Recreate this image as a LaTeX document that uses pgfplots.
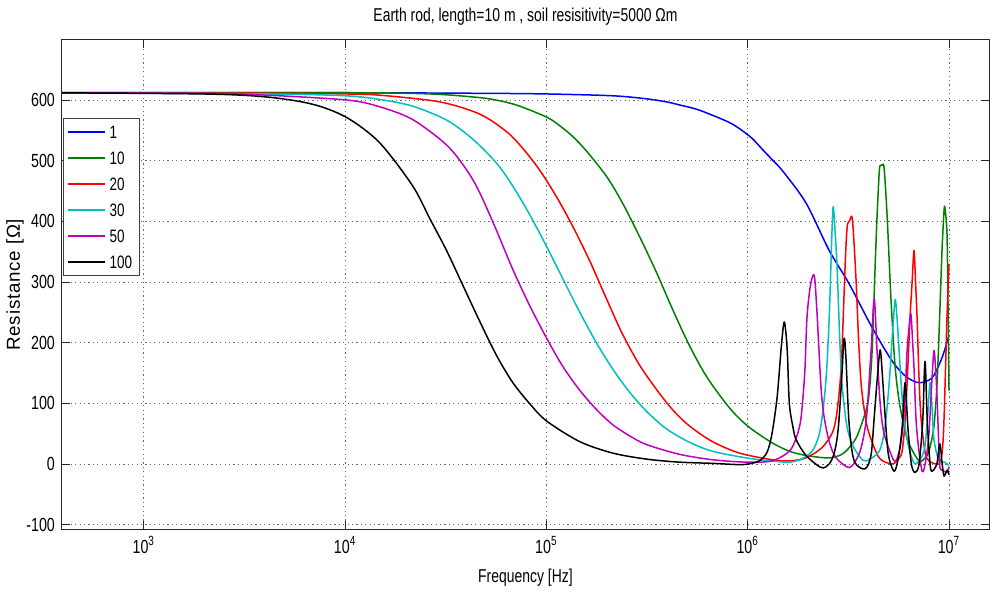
\documentclass[border=0pt]{standalone}
\usepackage{fontspec}
\setmainfont{Liberation Sans}
\newfontfamily\cond{Liberation Sans}[FakeStretch=0.75]
\newfontfamily\spaced{Liberation Sans}[LetterSpace=4]
\usepackage{pgfplots}
\pgfplotsset{compat=1.18}
\definecolor{mgreen}{rgb}{0,0.5,0}
\definecolor{mcyan}{rgb}{0,0.75,0.75}
\definecolor{mmag}{rgb}{0.75,0,0.75}
\begin{document}
\begin{tikzpicture}
\begin{axis}[
  at={(0,0)}, anchor=south west,
  width=464pt, height=245pt, scale only axis,
  xmode=log, log basis x=10,
  xmin=392, xmax=1.58e7, ymin=-108, ymax=699,
  xtick={1e2,1e3,1e4,1e5,1e6,1e7,1e8},
  xticklabel={10\textsuperscript{\pgfmathparse{int(round(\tick))}\pgfmathresult}},
  ytick={-100,0,100,200,300,400,500,600},
  yticklabel style={/pgf/number format/assume math mode=true},
  tick label style={font=\cond\fontsize{9.5}{10}\selectfont},
  xmajorgrids=true, xminorgrids=true, ymajorgrids=true,
  grid style={black!60, line width=0.4pt, dash pattern=on 0.6pt off 1.6pt},
  minor grid style={black!60, line width=0.4pt, dash pattern=on 0.6pt off 1.6pt},
  major tick length=4pt, minor tick length=2.5pt,
  tick style={black!85, line width=0.4pt},
  axis line style={black!85, line width=0.5pt},
  title={Earth rod, length=10 m , soil resisitivity=5000 Ωm},
  every axis title/.style={at={(axis description cs:0.5,1.047)}, anchor=center, font=\cond\fontsize{9.3}{11}\selectfont},
  xlabel={Frequency [Hz]},
  every axis x label/.style={at={(axis description cs:0.5,-0.098)}, anchor=center, font=\cond\fontsize{9.3}{11}\selectfont},
  ylabel={Resistance [Ω]},
  every axis y label/.style={at={(axis description cs:-0.0506,0.5)}, rotate=90, anchor=center, font=\spaced\fontsize{9.4}{11}\selectfont},
  legend style={at={(axis description cs:0.001,0.841)}, anchor=north west,
    draw=black!75, line width=0.5pt, fill=white, inner sep=2pt, row sep=3.5pt,
    font=\cond\fontsize{9}{10}\selectfont,
    nodes={inner sep=1.5pt, text height=6.5pt, text depth=0pt},
    cells={anchor=west}},
  legend cell align=left,
  legend image code/.code={\draw[#1, line width=1.1pt] (0pt,0pt) -- (18.5pt,0pt);},
  every axis plot/.append style={line width=0.75pt, mark=none, line join=round, smooth, tension=0.5},
]
\addplot[blue] coordinates {
(300,612) (1e4,612) (5e4,611) (1e5,610) (2.13e5,607) (3.14e5,602) (3.94e5,597) (4.57e5,592) (5.55e5,585) (6.67e5,575) (8.1e5,563) (9.08e5,553) (1.05e6,537) (1.18e6,519) (1.32e6,502) (1.5e6,482) (1.95e6,430) (2.54e6,352) (3.19e6,297) (4.15e6,225) (5.21e6,170) (6.12e6,144) (7.1e6,134) (8.23e6,142) (9.23e6,175) (1e7,212)
};
\addlegendentry{1}
\addplot[mgreen] coordinates {
(300,612) (1e4,612) (2.63e4,610) (4.65e4,604) (6e4,598) (7.35e4,590) (1e5,572) (1.15e5,559) (1.35e5,540) (1.58e5,516) (1.99e5,474) (2.38e5,431) (2.89e5,376) (3.52e5,316) (4.22e5,256) (5.12e5,196) (6.22e5,145) (7.82e5,99) (9.08e5,75) (1.05e6,57) (1.32e6,35) (1.61e6,21) (1.95e6,14) (2.45e6,10) (2.75e6,12) (3.05e6,20) (3.46e6,43) (3.87e6,88) (4.01e6,116) (4.15e6,187) (4.3e6,330) (4.39e6,407) (4.5e6,480) (4.55e6,492) (4.65e6,492) (4.76e6,488) (4.93e6,407) (5.1e6,300) (5.21e6,241) (5.4e6,160) (5.65e6,104) (6.0e6,60) (6.33e6,33) (7.1e6,5) (7.6e6,10) (7.95e6,21) (8.4e6,60) (8.72e6,132) (9.0e6,250) (9.23e6,352) (9.45e6,418) (9.55e6,421) (9.77e6,380) (9.9e6,250) (1e7,121)
};
\addlegendentry{10}
\addplot[red] coordinates {
(300,612) (5e3,611) (1e4,610) (1.48e4,608) (2.94e4,597) (4.65e4,577) (6.33e4,548) (7.6e4,521) (9.23e4,485) (1.12e5,441) (1.35e5,392) (1.64e5,335) (1.99e5,272) (2.38e5,215) (2.89e5,164) (3.52e5,123) (4.22e5,90) (5.12e5,63) (6.67e5,37) (9.08e5,18) (1.32e6,7) (1.61e6,5) (1.95e6,10) (2.34e6,27) (2.62e6,50) (2.75e6,76) (2.87e6,130) (2.94e6,187) (3.05e6,330) (3.12e6,391) (3.2e6,400) (3.30e6,407) (3.38e6,360) (3.46e6,297) (3.56e6,200) (3.66e6,132) (3.83e6,80) (4.01e6,50) (4.50e6,10) (5.21e6,0) (5.6e6,8) (5.85e6,21) (6.05e6,70) (6.19e6,132) (6.4e6,240) (6.55e6,297) (6.70e6,352) (6.82e6,300) (6.94e6,241) (7.1e6,140) (7.26e6,76) (7.6e6,20) (7.95e6,5) (8.92e6,0) (9.25e6,20) (9.45e6,76) (9.77e6,241) (1e7,330)
};
\addlegendentry{20}
\addplot[mcyan] coordinates {
(300,612) (4e3,610) (1e4,607) (1.48e4,601) (2.16e4,590) (3.19e4,567) (4.29e4,536) (5.65e4,496) (6.78e4,459) (8.23e4,412) (1e5,359) (1.2e5,307) (1.46e5,251) (1.77e5,200) (2.13e5,157) (2.58e5,119) (3.14e5,87) (3.94e5,58) (5.12e5,36) (6.67e5,21) (9.83e5,10) (1.3e6,5) (1.61e6,3) (1.85e6,8) (2.09e6,21) (2.25e6,45) (2.34e6,76) (2.45e6,140) (2.54e6,241) (2.62e6,380) (2.66e6,424) (2.72e6,380) (2.78e6,324) (2.87e6,200) (2.94e6,132) (3.1e6,65) (3.30e6,33) (3.6e6,12) (3.87e6,5) (4.50e6,21) (4.8e6,60) (5.04e6,132) (5.25e6,220) (5.40e6,271) (5.52e6,240) (5.65e6,187) (5.85e6,110) (6.12e6,50) (6.5e6,12) (6.86e6,0) (7.51e6,21) (7.8e6,70) (8.05e6,134) (8.25e6,90) (8.42e6,40) (8.92e6,5) (9.5e6,3) (1e7,-3)
};
\addlegendentry{30}
\addplot[mmag] coordinates {
(300,612) (2e3,611) (4.08e3,608) (1.02e4,600) (1.48e4,589) (2.16e4,568) (3.19e4,526) (4.01e4,485) (4.65e4,448) (5.65e4,385) (6.78e4,322) (8.23e4,262) (1e5,208) (1.2e5,162) (1.46e5,122) (1.77e5,90) (2.13e5,65) (2.6e5,46) (3.14e5,32) (4.57e5,16) (6.67e5,7) (9.83e5,3) (1.32e6,5) (1.61e6,21) (1.75e6,45) (1.84e6,76) (1.92e6,150) (1.97e6,241) (2.05e6,295) (2.14e6,311) (2.2e6,260) (2.26e6,187) (2.32e6,120) (2.40e6,76) (2.55e6,35) (2.75e6,10) (3.19e6,-6) (3.50e6,10) (3.70e6,33) (3.9e6,80) (4.10e6,187) (4.25e6,272) (4.39e6,187) (4.55e6,100) (4.76e6,50) (5.34e6,5) (5.65e6,20) (5.85e6,50) (6.05e6,110) (6.19e6,187) (6.4e6,240) (6.48e6,245) (6.6e6,200) (6.70e6,159) (6.9e6,60) (7.35e6,-12) (7.7e6,10) (7.95e6,50) (8.2e6,130) (8.42e6,187) (8.6e6,150) (8.72e6,110) (8.9e6,30) (9.02e6,-6) (9.5e6,-12) (9.77e6,-14) (1e7,-5)
};
\addlegendentry{50}
\addplot[black] coordinates {
(300,612) (1.96e3,610) (4.08e3,605) (6.9e3,593) (1.02e4,571) (1.48e4,530) (2.16e4,459) (2.63e4,405) (3.19e4,352) (3.79e4,299) (4.65e4,236) (5.65e4,179) (6.78e4,135) (8.23e4,100) (1e5,71) (1.46e5,37) (2.13e5,18) (3.14e5,8) (4.57e5,3) (6.67e5,1) (9.5e5,-1) (1.14e6,5) (1.25e6,20) (1.32e6,50) (1.40e6,110) (1.47e6,195) (1.52e6,234) (1.57e6,190) (1.61e6,100) (1.68e6,60) (1.74e6,40) (1.95e6,14) (2.32e6,-6) (2.54e6,0) (2.7e6,20) (2.82e6,60) (2.94e6,150) (3.01e6,207) (3.07e6,180) (3.19e6,66) (3.38e6,5) (3.83e6,-8) (4.1e6,15) (4.25e6,77) (4.4e6,140) (4.55e6,188) (4.68e6,140) (4.82e6,77) (5.0e6,15) (5.34e6,-12) (5.6e6,10) (5.85e6,60) (6.05e6,134) (6.25e6,60) (6.5e6,0) (6.78e6,-14) (7.1e6,0) (7.4e6,70) (7.6e6,169) (7.8e6,70) (8.05e6,0) (8.23e6,-12) (8.7e6,0) (9.0e6,33) (9.25e6,0) (9.45e6,-20) (9.8e6,-10) (1e7,-18)
};
\addlegendentry{100}
\end{axis}
\pgfresetboundingbox
\path[use as bounding box] (-31pt,-32.5pt) rectangle (465.5pt,265pt);
\end{tikzpicture}
\end{document}
